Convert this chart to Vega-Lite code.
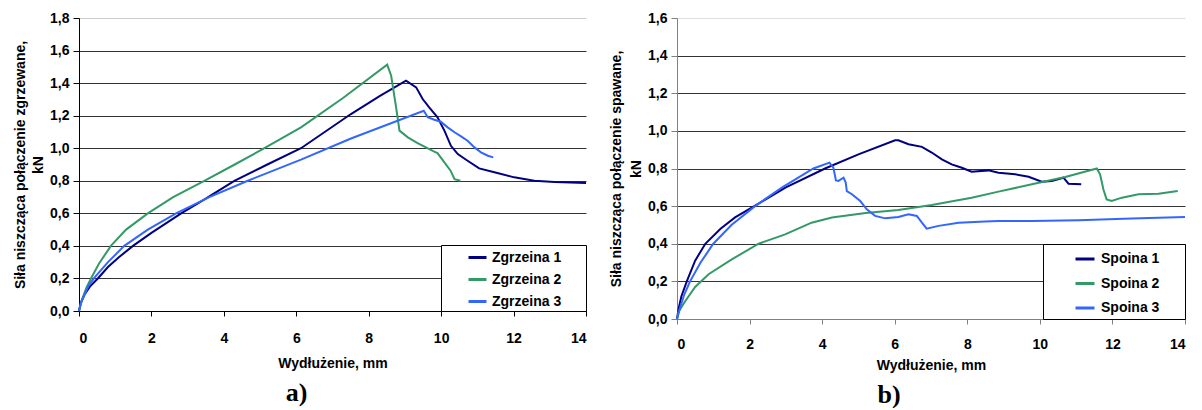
{
  "$schema": "https://vega.github.io/schema/vega-lite/v6.json",
  "padding": {"left": 13, "top": 11, "right": 0, "bottom": 0},
  "background": "white",
  "spacing": 19,
  "resolve": {"scale": {"color": "independent"}, "legend": {"color": "independent"}},
  "datasets": {
    "a": [
      {"s": "Zgrzeina 1", "x": 0, "y": 0},
      {"s": "Zgrzeina 1", "x": 0.05, "y": 0.05},
      {"s": "Zgrzeina 1", "x": 0.15, "y": 0.1},
      {"s": "Zgrzeina 1", "x": 0.3, "y": 0.15},
      {"s": "Zgrzeina 1", "x": 0.52, "y": 0.2},
      {"s": "Zgrzeina 1", "x": 0.8, "y": 0.27},
      {"s": "Zgrzeina 1", "x": 1.1, "y": 0.33},
      {"s": "Zgrzeina 1", "x": 1.49, "y": 0.4},
      {"s": "Zgrzeina 1", "x": 2.0, "y": 0.48},
      {"s": "Zgrzeina 1", "x": 2.82, "y": 0.6},
      {"s": "Zgrzeina 1", "x": 3.5, "y": 0.69},
      {"s": "Zgrzeina 1", "x": 4.29, "y": 0.8},
      {"s": "Zgrzeina 1", "x": 5.2, "y": 0.9},
      {"s": "Zgrzeina 1", "x": 6.13, "y": 1.0},
      {"s": "Zgrzeina 1", "x": 7.51, "y": 1.21},
      {"s": "Zgrzeina 1", "x": 8.3, "y": 1.32},
      {"s": "Zgrzeina 1", "x": 9.03, "y": 1.415},
      {"s": "Zgrzeina 1", "x": 9.31, "y": 1.374},
      {"s": "Zgrzeina 1", "x": 9.49, "y": 1.302},
      {"s": "Zgrzeina 1", "x": 9.67, "y": 1.251},
      {"s": "Zgrzeina 1", "x": 9.9, "y": 1.19},
      {"s": "Zgrzeina 1", "x": 10.09, "y": 1.108},
      {"s": "Zgrzeina 1", "x": 10.27, "y": 1.015},
      {"s": "Zgrzeina 1", "x": 10.46, "y": 0.964},
      {"s": "Zgrzeina 1", "x": 10.73, "y": 0.923},
      {"s": "Zgrzeina 1", "x": 11.05, "y": 0.876},
      {"s": "Zgrzeina 1", "x": 11.47, "y": 0.852},
      {"s": "Zgrzeina 1", "x": 12.02, "y": 0.821},
      {"s": "Zgrzeina 1", "x": 12.57, "y": 0.8},
      {"s": "Zgrzeina 1", "x": 13.13, "y": 0.792},
      {"s": "Zgrzeina 1", "x": 14.0, "y": 0.786},
      {"s": "Zgrzeina 2", "x": 0, "y": 0},
      {"s": "Zgrzeina 2", "x": 0.1, "y": 0.08},
      {"s": "Zgrzeina 2", "x": 0.2, "y": 0.14},
      {"s": "Zgrzeina 2", "x": 0.33, "y": 0.2},
      {"s": "Zgrzeina 2", "x": 0.55, "y": 0.29},
      {"s": "Zgrzeina 2", "x": 0.88, "y": 0.4},
      {"s": "Zgrzeina 2", "x": 1.3, "y": 0.5},
      {"s": "Zgrzeina 2", "x": 1.9, "y": 0.6},
      {"s": "Zgrzeina 2", "x": 2.6, "y": 0.7},
      {"s": "Zgrzeina 2", "x": 3.46, "y": 0.8},
      {"s": "Zgrzeina 2", "x": 4.3, "y": 0.9},
      {"s": "Zgrzeina 2", "x": 5.12, "y": 1.0},
      {"s": "Zgrzeina 2", "x": 6.13, "y": 1.128},
      {"s": "Zgrzeina 2", "x": 7.3, "y": 1.31},
      {"s": "Zgrzeina 2", "x": 8.51, "y": 1.513},
      {"s": "Zgrzeina 2", "x": 8.62, "y": 1.445},
      {"s": "Zgrzeina 2", "x": 8.75, "y": 1.26},
      {"s": "Zgrzeina 2", "x": 8.85, "y": 1.108},
      {"s": "Zgrzeina 2", "x": 9.08, "y": 1.067},
      {"s": "Zgrzeina 2", "x": 9.35, "y": 1.032},
      {"s": "Zgrzeina 2", "x": 9.58, "y": 1.005},
      {"s": "Zgrzeina 2", "x": 9.81, "y": 0.979},
      {"s": "Zgrzeina 2", "x": 9.9, "y": 0.97},
      {"s": "Zgrzeina 2", "x": 10.09, "y": 0.913},
      {"s": "Zgrzeina 2", "x": 10.26, "y": 0.862},
      {"s": "Zgrzeina 2", "x": 10.37, "y": 0.81},
      {"s": "Zgrzeina 2", "x": 10.53, "y": 0.8},
      {"s": "Zgrzeina 3", "x": 0, "y": 0},
      {"s": "Zgrzeina 3", "x": 0.05, "y": 0.05},
      {"s": "Zgrzeina 3", "x": 0.15, "y": 0.1},
      {"s": "Zgrzeina 3", "x": 0.25, "y": 0.15},
      {"s": "Zgrzeina 3", "x": 0.41, "y": 0.2},
      {"s": "Zgrzeina 3", "x": 0.8, "y": 0.3},
      {"s": "Zgrzeina 3", "x": 1.25, "y": 0.4},
      {"s": "Zgrzeina 3", "x": 1.9, "y": 0.5},
      {"s": "Zgrzeina 3", "x": 2.68, "y": 0.6},
      {"s": "Zgrzeina 3", "x": 3.6, "y": 0.7},
      {"s": "Zgrzeina 3", "x": 4.66, "y": 0.8},
      {"s": "Zgrzeina 3", "x": 6.13, "y": 0.93},
      {"s": "Zgrzeina 3", "x": 7.51, "y": 1.06},
      {"s": "Zgrzeina 3", "x": 9.52, "y": 1.23},
      {"s": "Zgrzeina 3", "x": 9.63, "y": 1.19},
      {"s": "Zgrzeina 3", "x": 9.81, "y": 1.175},
      {"s": "Zgrzeina 3", "x": 9.99, "y": 1.163},
      {"s": "Zgrzeina 3", "x": 10.18, "y": 1.128},
      {"s": "Zgrzeina 3", "x": 10.37, "y": 1.098},
      {"s": "Zgrzeina 3", "x": 10.55, "y": 1.073},
      {"s": "Zgrzeina 3", "x": 10.73, "y": 1.046},
      {"s": "Zgrzeina 3", "x": 10.92, "y": 1.005},
      {"s": "Zgrzeina 3", "x": 11.1, "y": 0.975},
      {"s": "Zgrzeina 3", "x": 11.29, "y": 0.954},
      {"s": "Zgrzeina 3", "x": 11.44, "y": 0.944}
    ],
    "b": [
      {"s": "Spoina 1", "x": 0, "y": 0},
      {"s": "Spoina 1", "x": 0.05, "y": 0.06},
      {"s": "Spoina 1", "x": 0.12, "y": 0.12},
      {"s": "Spoina 1", "x": 0.27, "y": 0.2},
      {"s": "Spoina 1", "x": 0.5, "y": 0.31},
      {"s": "Spoina 1", "x": 0.78, "y": 0.4},
      {"s": "Spoina 1", "x": 1.2, "y": 0.48},
      {"s": "Spoina 1", "x": 1.6, "y": 0.54},
      {"s": "Spoina 1", "x": 2.13, "y": 0.6},
      {"s": "Spoina 1", "x": 3.0, "y": 0.7},
      {"s": "Spoina 1", "x": 4.08, "y": 0.8},
      {"s": "Spoina 1", "x": 5.0, "y": 0.875},
      {"s": "Spoina 1", "x": 6.01, "y": 0.95},
      {"s": "Spoina 1", "x": 6.1, "y": 0.95},
      {"s": "Spoina 1", "x": 6.38, "y": 0.929},
      {"s": "Spoina 1", "x": 6.75, "y": 0.915},
      {"s": "Spoina 1", "x": 7.02, "y": 0.885},
      {"s": "Spoina 1", "x": 7.3, "y": 0.849},
      {"s": "Spoina 1", "x": 7.57, "y": 0.822},
      {"s": "Spoina 1", "x": 7.85, "y": 0.804},
      {"s": "Spoina 1", "x": 8.12, "y": 0.783},
      {"s": "Spoina 1", "x": 8.58, "y": 0.79},
      {"s": "Spoina 1", "x": 8.86, "y": 0.778},
      {"s": "Spoina 1", "x": 9.32, "y": 0.769},
      {"s": "Spoina 1", "x": 9.69, "y": 0.756},
      {"s": "Spoina 1", "x": 10.05, "y": 0.73},
      {"s": "Spoina 1", "x": 10.33, "y": 0.734},
      {"s": "Spoina 1", "x": 10.65, "y": 0.751},
      {"s": "Spoina 1", "x": 10.79, "y": 0.719},
      {"s": "Spoina 1", "x": 11.14, "y": 0.716},
      {"s": "Spoina 2", "x": 0, "y": 0},
      {"s": "Spoina 2", "x": 0.05, "y": 0.04},
      {"s": "Spoina 2", "x": 0.23, "y": 0.096},
      {"s": "Spoina 2", "x": 0.5, "y": 0.17},
      {"s": "Spoina 2", "x": 0.87, "y": 0.238},
      {"s": "Spoina 2", "x": 1.51, "y": 0.317},
      {"s": "Spoina 2", "x": 2.25, "y": 0.4},
      {"s": "Spoina 2", "x": 2.98, "y": 0.45},
      {"s": "Spoina 2", "x": 3.71, "y": 0.512},
      {"s": "Spoina 2", "x": 4.27, "y": 0.539},
      {"s": "Spoina 2", "x": 5.2, "y": 0.563},
      {"s": "Spoina 2", "x": 6.1, "y": 0.58},
      {"s": "Spoina 2", "x": 7.02, "y": 0.606},
      {"s": "Spoina 2", "x": 8.12, "y": 0.645},
      {"s": "Spoina 2", "x": 8.86, "y": 0.677},
      {"s": "Spoina 2", "x": 9.78, "y": 0.716},
      {"s": "Spoina 2", "x": 10.7, "y": 0.755},
      {"s": "Spoina 2", "x": 11.57, "y": 0.8},
      {"s": "Spoina 2", "x": 11.66, "y": 0.769},
      {"s": "Spoina 2", "x": 11.75, "y": 0.69},
      {"s": "Spoina 2", "x": 11.84, "y": 0.636},
      {"s": "Spoina 2", "x": 11.98, "y": 0.627},
      {"s": "Spoina 2", "x": 12.26, "y": 0.645},
      {"s": "Spoina 2", "x": 12.72, "y": 0.663},
      {"s": "Spoina 2", "x": 13.27, "y": 0.666},
      {"s": "Spoina 2", "x": 13.8, "y": 0.68},
      {"s": "Spoina 3", "x": 0, "y": 0},
      {"s": "Spoina 3", "x": 0.1, "y": 0.07},
      {"s": "Spoina 3", "x": 0.2, "y": 0.13},
      {"s": "Spoina 3", "x": 0.36, "y": 0.2},
      {"s": "Spoina 3", "x": 0.65, "y": 0.3},
      {"s": "Spoina 3", "x": 1.0, "y": 0.4},
      {"s": "Spoina 3", "x": 1.5, "y": 0.5},
      {"s": "Spoina 3", "x": 2.15, "y": 0.6},
      {"s": "Spoina 3", "x": 2.9, "y": 0.7},
      {"s": "Spoina 3", "x": 3.76, "y": 0.8},
      {"s": "Spoina 3", "x": 4.2, "y": 0.831},
      {"s": "Spoina 3", "x": 4.31, "y": 0.804},
      {"s": "Spoina 3", "x": 4.38, "y": 0.737},
      {"s": "Spoina 3", "x": 4.45, "y": 0.734},
      {"s": "Spoina 3", "x": 4.59, "y": 0.751},
      {"s": "Spoina 3", "x": 4.65, "y": 0.725},
      {"s": "Spoina 3", "x": 4.68, "y": 0.68},
      {"s": "Spoina 3", "x": 4.82, "y": 0.663},
      {"s": "Spoina 3", "x": 5.05, "y": 0.627},
      {"s": "Spoina 3", "x": 5.23, "y": 0.583},
      {"s": "Spoina 3", "x": 5.46, "y": 0.548},
      {"s": "Spoina 3", "x": 5.74, "y": 0.535},
      {"s": "Spoina 3", "x": 6.1, "y": 0.542},
      {"s": "Spoina 3", "x": 6.38, "y": 0.557},
      {"s": "Spoina 3", "x": 6.61, "y": 0.548},
      {"s": "Spoina 3", "x": 6.75, "y": 0.512},
      {"s": "Spoina 3", "x": 6.88, "y": 0.48},
      {"s": "Spoina 3", "x": 7.21, "y": 0.495},
      {"s": "Spoina 3", "x": 7.76, "y": 0.512},
      {"s": "Spoina 3", "x": 8.49, "y": 0.518},
      {"s": "Spoina 3", "x": 8.86, "y": 0.521},
      {"s": "Spoina 3", "x": 9.78, "y": 0.521},
      {"s": "Spoina 3", "x": 11.06, "y": 0.525},
      {"s": "Spoina 3", "x": 12.53, "y": 0.534},
      {"s": "Spoina 3", "x": 14.0, "y": 0.542}
    ]
  },
  "config": {
    "view": {"stroke": null},
    "font": "Liberation Sans",
    "axis": {
      "labelFont": "Liberation Sans", "labelFontWeight": "bold", "labelFontSize": 14, "labelColor": "black",
      "titleFont": "Liberation Sans", "titleFontWeight": "bold", "titleFontSize": 14, "titleColor": "black"
    },
    "legend": {
      "labelFont": "Liberation Sans", "labelFontWeight": "bold", "labelFontSize": 14, "labelColor": "black",
      "symbolType": "stroke", "symbolStrokeWidth": 3, "strokeColor": "black", "fillColor": "white",
      "cornerRadius": 0, "offset": 0
    }
  },
  "hconcat": [
    {
      "width": 507,
      "height": 293,
      "title": {"text": "a)", "orient": "bottom", "font": "Liberation Serif", "fontSize": 26, "fontWeight": "bold", "color": "black", "anchor": "middle", "frame": "group", "dx": -36, "offset": 10},
      "data": {"name": "a"},
      "mark": {"type": "line", "strokeWidth": 2},
      "encoding": {
        "x": {"field": "x", "type": "quantitative", "scale": {"domain": [0, 14], "nice": false},
          "axis": {"values": [0, 2, 4, 6, 8, 10, 12, 14], "grid": false, "domainColor": "black", "tickColor": "black", "tickSize": 5, "labelPadding": 15, "labelFontSize": 14, "title": "Wydłużenie, mm", "titlePadding": 11}},
        "y": {"field": "y", "type": "quantitative", "scale": {"domain": [0, 1.8], "nice": false},
          "axis": {"values": [0, 0.2, 0.4, 0.6, 0.8, 1.0, 1.2, 1.4, 1.6, 1.8], "grid": true,
            "gridColor": {"condition": {"test": "datum.value >= 1.79", "value": "#cccccc"}, "value": "#333333"},
            "domainColor": "black", "tickColor": "black", "tickSize": 6, "labelPadding": 4,
            "labelExpr": "replace(format(datum.value, '.1f'), '.', ',')",
            "title": ["Siła niszcząca połączenie zgrzewane,", "kN"], "titlePadding": 4, "titleLineHeight": 18}},
        "color": {"field": "s", "type": "nominal",
          "scale": {"domain": ["Zgrzeina 1", "Zgrzeina 2", "Zgrzeina 3"], "range": ["#000080", "#339966", "#3366ff"]},
          "legend": {"title": "\u00a0", "titleOrient": "right", "titlePadding": 23, "titleFontSize": 14, "orient": "bottom-right", "padding": 2, "rowPadding": 4, "symbolSize": 324, "symbolOffset": 24, "labelOffset": 4}}
      }
    },
    {
      "width": 508,
      "height": 301,
      "title": {"text": "b)", "orient": "bottom", "font": "Liberation Serif", "fontSize": 26, "fontWeight": "bold", "color": "black", "anchor": "middle", "frame": "group", "dx": -42, "offset": 10},
      "data": {"name": "b"},
      "mark": {"type": "line", "strokeWidth": 2},
      "encoding": {
        "x": {"field": "x", "type": "quantitative", "scale": {"domain": [0, 14], "nice": false},
          "axis": {"values": [0, 2, 4, 6, 8, 10, 12, 14], "grid": false, "domainColor": "#808080", "tickColor": "#808080", "tickSize": 5, "labelPadding": 13, "labelFontSize": 14, "title": "Wydłużenie, mm", "titlePadding": 7}},
        "y": {"field": "y", "type": "quantitative", "scale": {"domain": [0, 1.6], "nice": false},
          "axis": {"values": [0, 0.2, 0.4, 0.6, 0.8, 1.0, 1.2, 1.4, 1.6], "grid": true,
            "gridColor": {"condition": {"test": "datum.value >= 1.59", "value": "#dddddd"}, "value": "#333333"},
            "domainColor": "#808080", "tickColor": "#808080", "tickSize": 6, "labelPadding": 4,
            "labelExpr": "replace(format(datum.value, '.1f'), '.', ',')",
            "title": ["Siła niszcząca połączenie spawane,", "kN"], "titlePadding": 4, "titleLineHeight": 20}},
        "color": {"field": "s", "type": "nominal",
          "scale": {"domain": ["Spoina 1", "Spoina 2", "Spoina 3"], "range": ["#000080", "#339966", "#3366ff"]},
          "legend": {"title": "\u00a0", "titleOrient": "right", "titlePadding": 22, "titleFontSize": 14, "orient": "bottom-right", "padding": 4, "rowPadding": 6.5, "symbolSize": 361, "symbolOffset": 27, "labelOffset": 5}}
      }
    }
  ]
}
